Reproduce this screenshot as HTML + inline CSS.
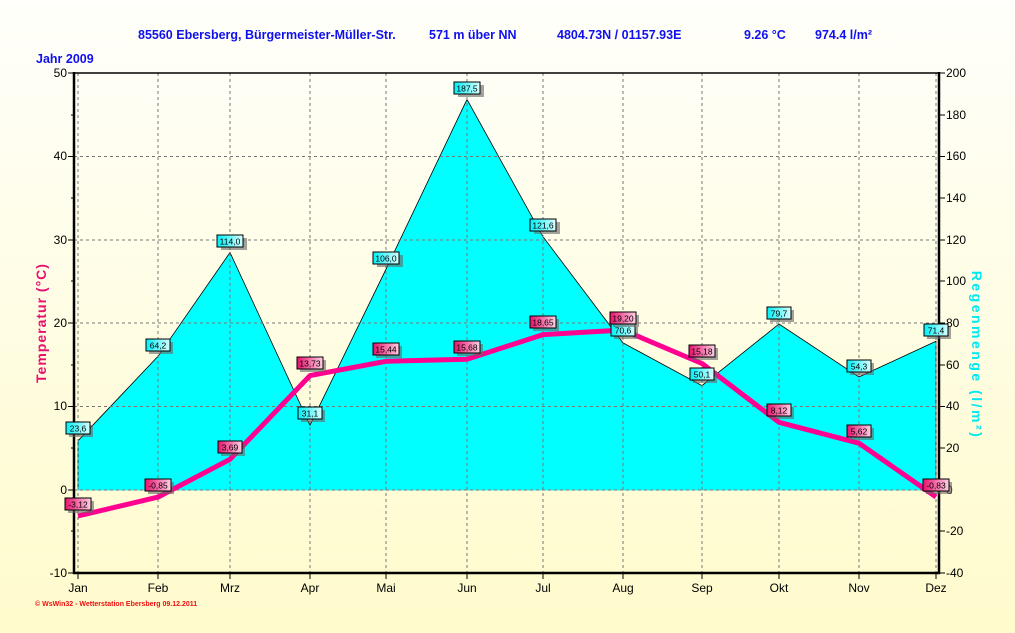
<!DOCTYPE html>
<html><head><meta charset="utf-8"><style>
html,body{margin:0;padding:0;}
body{width:1015px;height:633px;overflow:hidden;background:linear-gradient(#fffffa,#fffbd0);font-family:"Liberation Sans",sans-serif;}
svg{display:block}
</style></head><body>
<svg width="1015" height="633" viewBox="0 0 1015 633" font-family="Liberation Sans, sans-serif">
<defs>
<linearGradient id="bg" x1="0" y1="0" x2="0" y2="1"><stop offset="0" stop-color="#fffffb"/><stop offset="1" stop-color="#fffbcc"/></linearGradient>
<linearGradient id="pk" x1="0" y1="0" x2="1" y2="0"><stop offset="0" stop-color="#e8106e"/><stop offset="1" stop-color="#ffd0e4"/></linearGradient>
<linearGradient id="cy" x1="0" y1="0" x2="1" y2="0"><stop offset="0" stop-color="#00f0f8"/><stop offset="1" stop-color="#d8ffff"/></linearGradient>
</defs>
<rect width="1015" height="633" fill="url(#bg)"/>
<g font-weight="bold" fill="#1010ee" font-size="12.5">
<text x="138" y="39">85560 Ebersberg, Bürgermeister-Müller-Str.</text>
<text x="429" y="39">571 m über NN</text>
<text x="557" y="39">4804.73N / 01157.93E</text>
<text x="744" y="39">9.26 °C</text>
<text x="815" y="39">974.4 l/m²</text>
<text x="36" y="63">Jahr  2009</text>
</g>
<!-- rain area -->
<polygon fill="#00ffff" stroke="#000" stroke-width="0.8" points="78,490 78,440.8 158,356.3 230,252.5 310,425.2 386,269.2 467,99.4 543,236.7 623,342.9 702,385.6 779,324 859,376.9 936,341.3 936,490"/>
<line x1="78" y1="490" x2="936" y2="490" stroke="#00ffff" stroke-width="1"/>
<!-- grid -->
<g stroke="#777" stroke-width="1" stroke-dasharray="3,3" fill="none">
<path d="M74 156.5H939M74 240H939M74 323H939M74 406.5H939M74 490H939"/>
<path d="M78 73V573M158 73V573M230 73V573M310 73V573M386 73V573M467 73V573M543 73V573M623 73V573M702 73V573M779 73V573M859 73V573M936 73V573"/>
</g>
<!-- axes -->
<line x1="74" y1="73" x2="939" y2="73" stroke="#000" stroke-width="1.5"/>
<line x1="74" y1="72" x2="74" y2="574" stroke="#000" stroke-width="2.5"/>
<line x1="939" y1="72" x2="939" y2="574" stroke="#000" stroke-width="2.5"/>
<line x1="73" y1="573" x2="940" y2="573" stroke="#000" stroke-width="2.5"/>
<g stroke="#000" stroke-width="1">
<path d="M68 73H74M68 156.5H74M68 240H74M68 323H74M68 406.5H74M68 490H74M68 573H74M71 115H74M71 198H74M71 281H74M71 365H74M71 448H74M71 531H74"/>
<path d="M939 73H945M939 115H945M939 156.5H945M939 198H945M939 240H945M939 281H945M939 323H945M939 365H945M939 406.5H945M939 448H945M939 490H945M939 531H945M939 573H945"/>
<path d="M78 573V579M158 573V579M230 573V579M310 573V579M386 573V579M467 573V579M543 573V579M623 573V579M702 573V579M779 573V579M859 573V579M936 573V579"/>
</g>
<g font-size="12" fill="#000" text-anchor="end">
<text x="67" y="77">50</text><text x="67" y="160">40</text><text x="67" y="244">30</text><text x="67" y="327">20</text><text x="67" y="410">10</text><text x="67" y="494">0</text><text x="67" y="577">-10</text>
</g>
<g font-size="12" fill="#000">
<text x="946" y="77">200</text><text x="946" y="119">180</text><text x="946" y="160">160</text><text x="946" y="202">140</text><text x="946" y="244">120</text><text x="946" y="285">100</text><text x="946" y="327">80</text><text x="946" y="369">60</text><text x="946" y="410">40</text><text x="946" y="452">20</text><text x="946" y="494">0</text><text x="946" y="535">-20</text><text x="946" y="577">-40</text>
</g>
<g font-size="12" fill="#000" text-anchor="middle">
<text x="78" y="592">Jan</text><text x="158" y="592">Feb</text><text x="230" y="592">Mrz</text><text x="310" y="592">Apr</text><text x="386" y="592">Mai</text><text x="467" y="592">Jun</text><text x="543" y="592">Jul</text><text x="623" y="592">Aug</text><text x="702" y="592">Sep</text><text x="779" y="592">Okt</text><text x="859" y="592">Nov</text><text x="936" y="592">Dez</text>
</g>
<text transform="translate(46,323) rotate(-90)" text-anchor="middle" font-size="14" font-weight="bold" fill="#e8106e" letter-spacing="1">Temperatur  (°C)</text>
<text transform="translate(972,355) rotate(90)" text-anchor="middle" font-size="14" font-weight="bold" fill="#00e8f0" letter-spacing="2.5">Regenmenge  (l/m²)</text>
<text x="35" y="606" font-size="7" fill="#ee1010" font-weight="bold">© WsWin32  -  Wetterstation Ebersberg  09.12.2011</text>
<!-- temp line -->
<polyline fill="none" stroke="#ff0090" stroke-width="5" stroke-linejoin="round" points="78,516 158,497.1 230,459.3 310,375.6 386,361.3 467,359.3 543,334.6 623,330 702,363.5 779,422.3 859,443.2 936,496.9"/>
<!-- rain labels -->
<g font-size="8.5" text-anchor="middle" fill="#000">
<g><rect x="69" y="425" width="24" height="12" fill="#666" opacity=".6"/><rect x="66" y="422" width="24" height="12" fill="url(#cy)" stroke="#000"/><text x="78" y="431.5">23,6</text></g>
<g><rect x="149" y="342" width="24" height="12" fill="#666" opacity=".6"/><rect x="146" y="339" width="24" height="12" fill="url(#cy)" stroke="#000"/><text x="158" y="348.5">64,2</text></g>
<g><rect x="221" y="238" width="26" height="12" fill="#666" opacity=".6"/><rect x="217" y="235" width="26" height="12" fill="url(#cy)" stroke="#000"/><text x="230" y="244.5">114,0</text></g>
<g><rect x="301" y="410" width="24" height="12" fill="#666" opacity=".6"/><rect x="298" y="407" width="24" height="12" fill="url(#cy)" stroke="#000"/><text x="310" y="416.5">31,1</text></g>
<g><rect x="377" y="255" width="26" height="12" fill="#666" opacity=".6"/><rect x="373" y="252" width="26" height="12" fill="url(#cy)" stroke="#000"/><text x="386" y="261.5">106,0</text></g>
<g><rect x="458" y="85" width="26" height="12" fill="#666" opacity=".6"/><rect x="454" y="82" width="26" height="12" fill="url(#cy)" stroke="#000"/><text x="467" y="91.5">187,5</text></g>
<g><rect x="534" y="222" width="26" height="12" fill="#666" opacity=".6"/><rect x="530" y="219" width="26" height="12" fill="url(#cy)" stroke="#000"/><text x="543" y="228.5">121,6</text></g>
<g><rect x="614" y="327" width="24" height="12" fill="#666" opacity=".6"/><rect x="611" y="324" width="24" height="12" fill="url(#cy)" stroke="#000"/><text x="623" y="333.5">70,6</text></g>
<g><rect x="693" y="371" width="24" height="12" fill="#666" opacity=".6"/><rect x="690" y="368" width="24" height="12" fill="url(#cy)" stroke="#000"/><text x="702" y="377.5">50,1</text></g>
<g><rect x="770" y="310" width="24" height="12" fill="#666" opacity=".6"/><rect x="767" y="307" width="24" height="12" fill="url(#cy)" stroke="#000"/><text x="779" y="316.5">79,7</text></g>
<g><rect x="850" y="363" width="24" height="12" fill="#666" opacity=".6"/><rect x="847" y="360" width="24" height="12" fill="url(#cy)" stroke="#000"/><text x="859" y="369.5">54,3</text></g>
<g><rect x="927" y="327" width="24" height="12" fill="#666" opacity=".6"/><rect x="924" y="324" width="24" height="12" fill="url(#cy)" stroke="#000"/><text x="936" y="333.5">71,4</text></g>
</g>
<!-- temp labels -->
<g font-size="8.5" text-anchor="middle" fill="#000">
<g><rect x="68" y="501" width="26" height="12" fill="#666" opacity=".6"/><rect x="65" y="498" width="26" height="12" fill="url(#pk)" stroke="#000"/><text x="78" y="507.5">-3,12</text></g>
<g><rect x="148" y="482" width="26" height="12" fill="#666" opacity=".6"/><rect x="145" y="479" width="26" height="12" fill="url(#pk)" stroke="#000"/><text x="158" y="488.5">-0,85</text></g>
<g><rect x="221" y="444" width="24" height="12" fill="#666" opacity=".6"/><rect x="218" y="441" width="24" height="12" fill="url(#pk)" stroke="#000"/><text x="230" y="450.5">3,69</text></g>
<g><rect x="300" y="360" width="26" height="12" fill="#666" opacity=".6"/><rect x="297" y="357" width="26" height="12" fill="url(#pk)" stroke="#000"/><text x="310" y="366.5">13,73</text></g>
<g><rect x="376" y="346" width="26" height="12" fill="#666" opacity=".6"/><rect x="373" y="343" width="26" height="12" fill="url(#pk)" stroke="#000"/><text x="386" y="352.5">15,44</text></g>
<g><rect x="457" y="344" width="26" height="12" fill="#666" opacity=".6"/><rect x="454" y="341" width="26" height="12" fill="url(#pk)" stroke="#000"/><text x="467" y="350.5">15,68</text></g>
<g><rect x="533" y="319" width="26" height="12" fill="#666" opacity=".6"/><rect x="530" y="316" width="26" height="12" fill="url(#pk)" stroke="#000"/><text x="543" y="325.5">18,65</text></g>
<g><rect x="613" y="315" width="26" height="12" fill="#666" opacity=".6"/><rect x="610" y="312" width="26" height="12" fill="url(#pk)" stroke="#000"/><text x="623" y="321.5">19,20</text></g>
<g><rect x="692" y="348" width="26" height="12" fill="#666" opacity=".6"/><rect x="689" y="345" width="26" height="12" fill="url(#pk)" stroke="#000"/><text x="702" y="354.5">15,18</text></g>
<g><rect x="770" y="407" width="24" height="12" fill="#666" opacity=".6"/><rect x="767" y="404" width="24" height="12" fill="url(#pk)" stroke="#000"/><text x="779" y="413.5">8,12</text></g>
<g><rect x="850" y="428" width="24" height="12" fill="#666" opacity=".6"/><rect x="847" y="425" width="24" height="12" fill="url(#pk)" stroke="#000"/><text x="859" y="434.5">5,62</text></g>
<g><rect x="926" y="482" width="26" height="12" fill="#666" opacity=".6"/><rect x="923" y="479" width="26" height="12" fill="url(#pk)" stroke="#000"/><text x="936" y="488.5">-0,83</text></g>
</g>
</svg>
</body></html>
